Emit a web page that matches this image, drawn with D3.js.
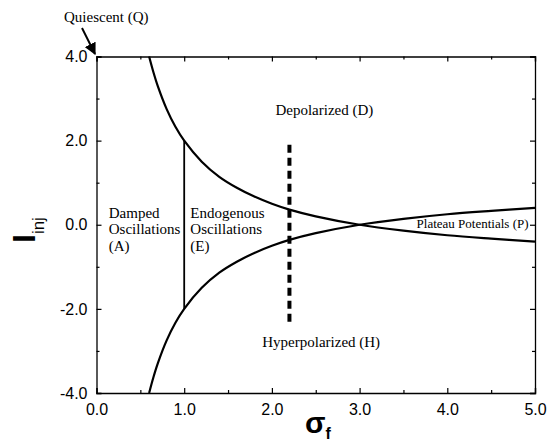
<!DOCTYPE html>
<html>
<head>
<meta charset="utf-8">
<script src="https://cdn.jsdelivr.net/npm/d3@7"></script>
<style>
  body { margin: 0; background: #fff; }
  svg { display: block; }
  .tick text { font-family: "Liberation Sans", Arial, sans-serif; font-size: 16px; fill: #000; }
  .lbl { font-family: "Liberation Serif", "Times New Roman", serif; font-size: 15px; fill: #000; }
</style>
</head>
<body>
<script>
// ---- data ----
const sigma = [0.6, 0.65, 0.7, 0.8, 0.9, 1.0, 1.2, 1.4, 1.6, 1.8, 2.0, 2.2, 2.5, 3.0, 3.5, 4.0, 4.5, 5.0];
const upperBound = [4.0, 3.62, 3.29, 2.75, 2.33, 2.0, 1.5, 1.14, 0.88, 0.67, 0.5, 0.36, 0.2, 0.0, -0.14, -0.25, -0.33, -0.4];
const lowerBound = [-4.0, -3.62, -3.29, -2.75, -2.33, -2.0, -1.5, -1.14, -0.88, -0.67, -0.5, -0.36, -0.2, 0.0, 0.14, 0.25, 0.33, 0.4];
const solidLineX = [1.0, 1.0];
const solidLineY = [2.0, -2.0];
const dashedLineX = [2.2, 2.2];
const dashedLineY = [1.9, -2.35];
const xTicks = [0, 1, 2, 3, 4, 5];
const xMinorTicks = [0.5, 1.5, 2.5, 3.5, 4.5];
const yTicks = [-4, -2, 0, 2, 4];
const yMinorTicks = [-3, -1, 1, 3];
const regionLabels = [
  { lines: ["Damped", "Oscillations", "(A)"], x: 0.14, y: 0.17 },
  { lines: ["Endogenous", "Oscillations", "(E)"], x: 1.07, y: 0.17 },
  { lines: ["Depolarized (D)"], x: 2.04, y: 2.6 },
  { lines: ["Hyperpolarized (H)"], x: 1.89, y: -2.9 },
  { lines: ["Plateau Potentials (P)"], x: 3.65, y: -0.07, small: true }
];

const W = 557, H = 443;
const m = { left: 96.5, right: 22, top: 56.5, bottom: 50 };
const svg = d3.select("body").append("svg").attr("width", W).attr("height", H);

const x = d3.scaleLinear().domain([0, 5]).range([m.left, W - m.right]);
const y = d3.scaleLinear().domain([-4, 4]).range([H - m.bottom, m.top]);

const fmt = d => d3.format(".1f")(d).replace("\u2212", "-");

// ---- axes: frame with inward ticks ----
function addAxis(axisGen, transform, ticks, size, showLabels) {
  const g = svg.append("g").attr("transform", transform)
    .call(axisGen.tickValues(ticks).tickSize(size).tickPadding(0)
      .tickFormat(showLabels ? fmt : () => ""));
  g.select(".domain").attr("stroke", "#000").attr("stroke-width", 1.3);
  g.selectAll(".tick line").attr("stroke", "#000").attr("stroke-width", 1.2);
  return g;
}
const bottomY = y(-4), topY = y(4), leftX = x(0), rightX = x(5);
const gb = addAxis(d3.axisBottom(x), `translate(0,${bottomY})`, xTicks, -5, true);
gb.selectAll(".tick text").attr("y", 11).attr("dy", "0.71em");
addAxis(d3.axisBottom(x), `translate(0,${bottomY})`, xMinorTicks, -3, false).select(".domain").remove();
addAxis(d3.axisTop(x), `translate(0,${topY})`, xTicks, -5, false);
addAxis(d3.axisTop(x), `translate(0,${topY})`, xMinorTicks, -3, false).select(".domain").remove();
const gl = addAxis(d3.axisLeft(y), `translate(${leftX},0)`, yTicks, -5, true);
gl.selectAll(".tick text").attr("x", -9);
addAxis(d3.axisLeft(y), `translate(${leftX},0)`, yMinorTicks, -3, false).select(".domain").remove();
addAxis(d3.axisRight(y), `translate(${rightX},0)`, yTicks, -5, false);
addAxis(d3.axisRight(y), `translate(${rightX},0)`, yMinorTicks, -3, false).select(".domain").remove();

// ---- curves ----
const line = d3.line().x(d => x(d[0])).y(d => y(d[1])).curve(d3.curveCatmullRom);
[upperBound, lowerBound].forEach(vals => {
  svg.append("path")
    .datum(sigma.map((s, i) => [s, vals[i]]))
    .attr("d", line)
    .attr("fill", "none").attr("stroke", "#000").attr("stroke-width", 2.2);
});

const straight = d3.line().x(d => x(d[0])).y(d => y(d[1]));
svg.append("path")
  .datum(solidLineX.map((v, i) => [v, solidLineY[i]]))
  .attr("d", straight).attr("stroke", "#000").attr("stroke-width", 1.8).attr("fill", "none");
svg.append("path")
  .datum(dashedLineX.map((v, i) => [v, dashedLineY[i]]))
  .attr("d", straight).attr("stroke", "#000").attr("stroke-width", 4)
  .attr("stroke-dasharray", "8,5").attr("fill", "none");

// ---- region labels ----
regionLabels.forEach(r => {
  const t = svg.append("text").attr("class", "lbl")
    .attr("x", x(r.x)).attr("y", y(r.y))
    .style("font-size", r.small ? "13px" : "15px");
  r.lines.forEach((ln, i) => {
    t.append("tspan").attr("x", x(r.x)).attr("dy", i === 0 ? 0 : 16.5).text(ln);
  });
});

// ---- Quiescent annotation ----
svg.append("text").attr("class", "lbl").attr("x", 64).attr("y", 22).text("Quiescent (Q)");
const defs = svg.append("defs");
defs.append("marker").attr("id", "arrow").attr("viewBox", "0 0 10 10")
  .attr("refX", 9).attr("refY", 5).attr("markerWidth", 6).attr("markerHeight", 6)
  .attr("markerUnits", "strokeWidth").attr("orient", "auto")
  .append("path").attr("d", "M0,0 L10,5 L0,10 Z").attr("fill", "#000");
svg.append("line").attr("x1", 82).attr("y1", 28).attr("x2", 95).attr("y2", 54)
  .attr("stroke", "#000").attr("stroke-width", 2).attr("marker-end", "url(#arrow)");

// ---- axis titles ----
const yt = svg.append("text")
  .attr("transform", "translate(35,243) rotate(-90)")
  .style("font-family", "'Liberation Sans', Arial, sans-serif").style("font-weight", "bold");
yt.append("tspan").style("font-size", "32px").text("I");
yt.append("tspan").attr("dy", 9).style("font-size", "17px").style("font-weight", "normal").text("inj");

const xt = svg.append("text").attr("x", 305).attr("y", 433)
  .style("font-family", "'Liberation Sans', Arial, sans-serif").style("font-weight", "bold");
xt.append("tspan").style("font-size", "30px").text("σ");
xt.append("tspan").attr("dy", 6).style("font-size", "16px").text("f");
</script>
</body>
</html>
